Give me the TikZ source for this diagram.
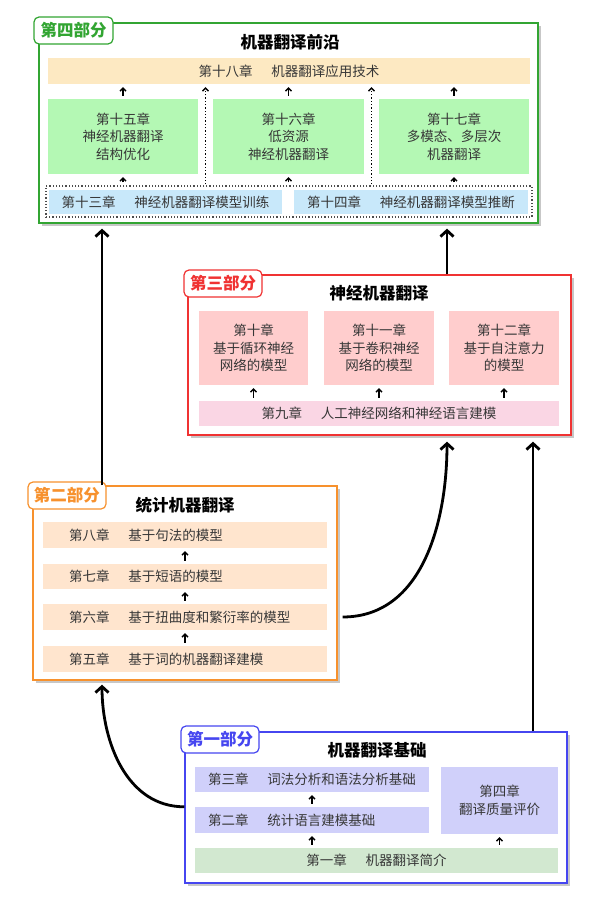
\documentclass[tikz,border=0pt]{standalone}
\usepackage{fontspec}
\setmainfont{Noto Sans CJK SC}
\usetikzlibrary{calc,shadows,arrows.meta}

\definecolor{partfour}{RGB}{50,165,50}
\definecolor{partthree}{RGB}{240,50,50}
\definecolor{parttwo}{RGB}{247,145,45}
\definecolor{partone}{RGB}{70,70,240}
\definecolor{frontyellow}{RGB}{253,233,194}
\definecolor{frontgreen}{RGB}{180,248,180}
\definecolor{frontblue}{RGB}{200,232,250}
\definecolor{nmtpink}{RGB}{255,205,205}
\definecolor{nmtrose}{RGB}{250,214,228}
\definecolor{smtorange}{RGB}{255,229,206}
\definecolor{basepurple}{RGB}{208,208,250}
\definecolor{basegreen}{RGB}{210,232,208}
\definecolor{textgray}{RGB}{55,55,55}

\newcommand{\chap}[2]{#1\hspace{1.4em}#2}

\begin{document}
\begin{tikzpicture}[x=1pt,y=-1pt,
    size/.style 2 args={minimum width=#1pt, minimum height=#2pt},
    part/.style={draw=#1, line width=1.3pt, fill=white, inner sep=0pt,
      drop shadow={shadow xshift=3pt, shadow yshift=-3pt, fill=black!22, opacity=1}},
    tag/.style={draw=#1, text=#1, line width=1.2pt, fill=white,
      rounded corners=5pt, inner sep=0pt, font=\fontsize{16.5}{16.5}\selectfont\bfseries},
    title/.style={font=\fontsize{16.5}{17}\selectfont\bfseries},
    chapbox/.style={fill=#1, inner sep=0pt, text=textgray, align=center,
      font=\fontsize{13.5}{17.5}\selectfont},
    uparrow/.style={-{Straight Barb[length=3pt,width=6pt]}, line width=1.4pt,
      shorten <=3pt, shorten >=3pt},
    dotarrow/.style={-{Straight Barb[length=3pt,width=6pt]}, dotted, line width=1.3pt,
      shorten <=1pt, shorten >=3pt},
    dotbox/.style={draw=black!70, dotted, line width=1.2pt, inner sep=0pt},
    bigarrow/.style={-{Straight Barb[length=6pt,width=13pt]}, line width=2.8pt}]
  \useasboundingbox (0,0) rectangle (608,908);

  % Part four
  \node[part=partfour, size={499}{200}] (p4) at (288.5,123) {};
  \node[tag=partfour, size={79}{27}] (l4) at (73.5,30.5) {第四部分};
  \node[title] (t4) at (290,42) {机器翻译前沿};
  \node[chapbox=frontyellow, size={482}{26}] (c18) at (289,71) {\chap{第十八章}{机器翻译应用技术}};
  \node[chapbox=frontgreen, size={150}{75}] (c15) at (123,136.5) {第十五章\\神经机器翻译\\结构优化};
  \node[chapbox=frontgreen, size={151}{75}] (c16) at (288.5,136.5) {第十六章\\低资源\\神经机器翻译};
  \node[chapbox=frontgreen, size={150}{75}] (c17) at (454,136.5) {第十七章\\多模态、多层次\\机器翻译};
  \node[dotbox, size={486}{31}] (nmt) at (289,201.5) {};
  \node[chapbox=frontblue, size={233}{24}] (c13) at (165.5,202) {\chap{第十三章}{神经机器翻译模型训练}};
  \node[chapbox=frontblue, size={234}{24}] (c14) at (411,202) {\chap{第十四章}{神经机器翻译模型推断}};

  % Part three
  \node[part=partthree, size={383}{160}] (p3) at (379.5,355) {};
  \node[tag=partthree, size={78}{27}] (l3) at (223,283.5) {第三部分};
  \node[title] (t3) at (379,293) {神经机器翻译};
  \node[chapbox=nmtpink, size={109}{74}] (c10) at (253.5,348) {第十章\\基于循环神经\\网络的模型};
  \node[chapbox=nmtpink, size={110}{74}] (c11) at (379,348) {第十一章\\基于卷积神经\\网络的模型};
  \node[chapbox=nmtpink, size={110}{74}] (c12) at (504,348) {第十二章\\基于自注意力\\的模型};
  \node[chapbox=nmtrose, size={360}{25}] (c9) at (379,413.5) {\chap{第九章}{人工神经网络和神经语言建模}};

  % Part two
  \node[part=parttwo, size={304}{194}] (p2) at (185,583) {};
  \node[tag=parttwo, size={78}{27}] (l2) at (67,495.5) {第二部分};
  \node[title] (t2) at (185,505) {统计机器翻译};
  \node[chapbox=smtorange, text width=232pt, align=left, size={284}{26}] (c8) at (185,535) {\chap{第八章}{基于句法的模型}};
  \node[chapbox=smtorange, text width=232pt, align=left, size={284}{25}] (c7) at (185,576.5) {\chap{第七章}{基于短语的模型}};
  \node[chapbox=smtorange, text width=232pt, align=left, size={284}{26}] (c6) at (185,617) {\chap{第六章}{基于扭曲度和繁衍率的模型}};
  \node[chapbox=smtorange, text width=232pt, align=left, size={284}{26}] (c5) at (185,659) {\chap{第五章}{基于词的机器翻译建模}};

  % Part one
  \node[part=partone, size={382}{151}] (p1) at (376,807.5) {};
  \node[tag=partone, size={78}{27}] (l1) at (220,739.5) {第一部分};
  \node[title] (t1) at (377,750) {机器翻译基础};
  \node[chapbox=basepurple, text width=208pt, align=left, size={234}{25}] (c3) at (312,779.5) {\chap{第三章}{词法分析和语法分析基础}};
  \node[chapbox=basepurple, text width=208pt, align=left, size={234}{26}] (c2) at (312,820) {\chap{第二章}{统计语言建模基础}};
  \node[chapbox=basepurple, size={117}{67}] (c4) at (499.5,800.5) {第四章\\翻译质量评价};
  \node[chapbox=basegreen, size={363}{25}] (c1) at (376.5,860.5) {\chap{第一章}{机器翻译简介}};

  % Arrows inside the parts
  \coordinate (g1) at ($(c15.east)!0.5!(c16.west)$);
  \coordinate (g2) at ($(c16.east)!0.5!(c17.west)$);
  \foreach \c in {c15,c16,c17} {
    \draw[uparrow] (\c.north) -- (\c.north |- c18.south);
    \draw[uparrow] (nmt.north -| \c) -- (\c.south);
  }
  \draw[dotarrow] (nmt.north -| g1) -- (c18.south -| g1);
  \draw[dotarrow] (nmt.north -| g2) -- (c18.south -| g2);
  \foreach \c in {c10,c11,c12}
    \draw[uparrow] (c9.north -| \c) -- (\c.south);
  \draw[uparrow] (c5.north) -- (c6.south);
  \draw[uparrow] (c6.north) -- (c7.south);
  \draw[uparrow] (c7.north) -- (c8.south);
  \draw[uparrow] (c1.north -| c2) -- (c2.south);
  \draw[uparrow] (c2.north) -- (c3.south);
  \draw[uparrow] (c1.north -| c4) -- (c4.south);

  % Arrows between the parts
  \coordinate (lx) at (102,0);
  \coordinate (mx) at (447,0);
  \coordinate (rx) at (533,0);
  \draw[bigarrow] (p1.west |- c2.north) to[out=180,in=-90] ($(p2.south -| lx)+(0,4)$);
  \draw[bigarrow] (p2.north -| lx) -- ($(p4.south -| lx)+(0,5)$);
  \draw[bigarrow] ($(p2.east |- c6)+(5,0)$) to[out=0,in=-90] ($(p3.south -| mx)+(0,6)$);
  \draw[bigarrow] (p1.north -| rx) -- ($(p3.south -| rx)+(0,6)$);
  \draw[bigarrow] (p3.north -| mx) -- ($(p4.south -| mx)+(0,5)$);
\end{tikzpicture}
\end{document}
